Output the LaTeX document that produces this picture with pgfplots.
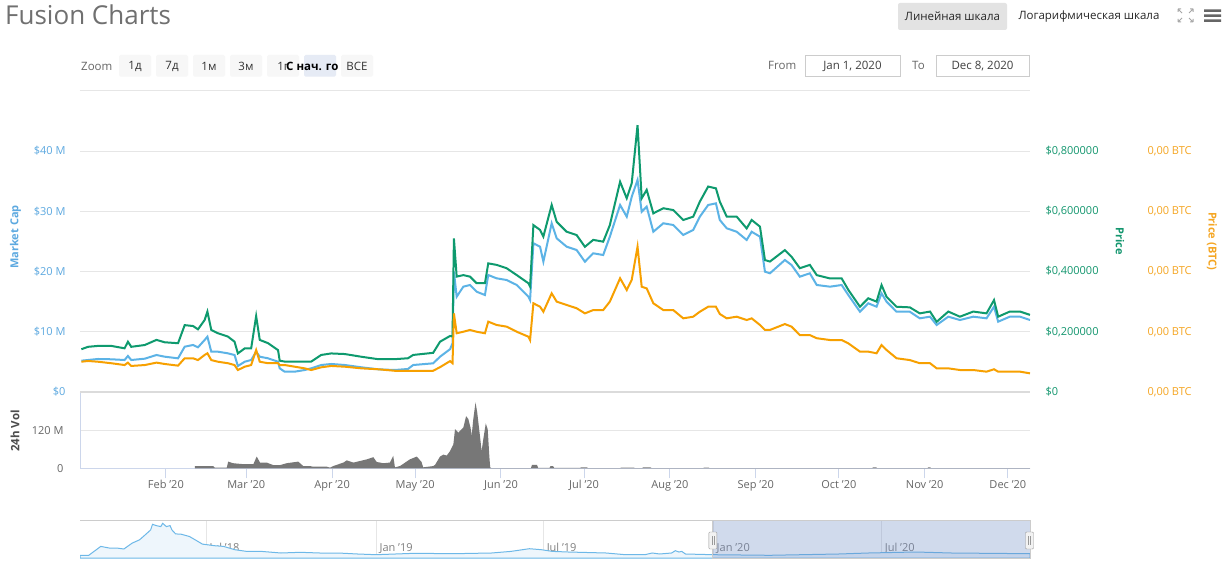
\documentclass[border=0pt]{standalone}
\usepackage{fontspec}
\setmainfont{Open Sans}
\usepackage{pgfplots}
\usepackage{pgfplotstable}
\pgfplotsset{compat=1.18}

\definecolor{mcap}{HTML}{5CB3E6}
\definecolor{price}{HTML}{0E9A6E}
\definecolor{btc}{HTML}{F7A000}
\definecolor{mcaplbl}{HTML}{5DA9E0}
\definecolor{pricelbl}{HTML}{13966E}
\definecolor{btclbl}{HTML}{F5A623}
\definecolor{gridc}{HTML}{E6E6E6}
\definecolor{axisc}{HTML}{CCD6EB}
\definecolor{volc}{HTML}{777777}
\definecolor{txt}{HTML}{666666}
\definecolor{titlec}{HTML}{707070}
\definecolor{btnbg}{HTML}{F7F7F7}
\definecolor{btnsel}{HTML}{E6EBF5}
\definecolor{navline}{HTML}{6DB8E8}
\definecolor{navfill}{HTML}{EEF6FC}
\definecolor{maskc}{RGB}{102,133,194}

% day = days since Jan 1 2020; mcap in M$, price in $, btc in 1e-5 BTC
\pgfplotstableread{
day mcap price btc
0.5 5.20 0.142 2.01
2.9 5.31 0.150 2.06
6.5 5.48 0.153 2.01
11.3 5.43 0.153 1.91
16.1 5.31 0.145 1.79
17.3 5.98 0.167 1.95
18.5 5.31 0.150 1.73
23.4 5.53 0.156 1.79
27.6 6.14 0.173 1.95
30.6 5.86 0.165 1.86
35.4 5.59 0.162 1.75
37.8 7.52 0.222 2.24
40.8 7.80 0.219 2.24
42.6 7.42 0.208 2.12
45.0 8.63 0.239 2.46
46.0 9.18 0.267 2.57
47.4 6.69 0.206 2.12
49.8 6.69 0.195 2.01
53.4 6.42 0.184 1.91
55.8 6.14 0.167 1.79
57.0 4.32 0.128 1.46
59.5 5.03 0.145 1.68
61.8 5.31 0.145 1.79
63.6 6.69 0.252 2.79
64.9 5.86 0.173 2.01
67.9 5.59 0.162 1.91
71.5 5.03 0.139 1.91
72.1 3.93 0.104 1.79
73.9 3.37 0.101 1.79
77.5 3.37 0.101 1.68
81.1 3.65 0.101 1.57
83.5 3.93 0.101 1.46
87.1 4.48 0.123 1.64
90.7 4.65 0.128 1.73
95.6 4.48 0.126 1.68
101.6 4.10 0.117 1.57
107.6 3.77 0.109 1.51
113.6 3.65 0.109 1.41
118.4 3.82 0.112 1.41
120.3 4.48 0.123 1.41
127.5 4.76 0.130 1.41
130.0 5.86 0.167 1.65
133.6 7.10 0.186 2.05
134.5 8.08 0.184 1.91
135.0 20.0 0.510 5.22
136.0 15.82 0.383 3.90
138.4 17.48 0.388 4.00
140.8 17.76 0.383 4.12
143.2 16.65 0.361 4.00
146.2 16.10 0.361 3.90
147.4 19.42 0.427 4.67
150.4 18.87 0.422 4.45
154.0 18.59 0.411 4.34
157.7 17.76 0.388 4.00
161.9 15.82 0.361 3.67
162.5 15.27 0.350 3.45
163.7 24.68 0.554 5.89
166.1 24.12 0.538 5.66
167.3 21.63 0.516 5.33
170.3 28.00 0.621 6.55
172.1 25.51 0.565 6.00
175.7 24.12 0.532 5.78
179.3 23.57 0.521 5.56
182.3 21.63 0.482 5.22
185.3 23.02 0.505 5.44
188.9 22.74 0.499 5.44
191.3 25.78 0.554 6.00
195.0 31.04 0.698 7.55
197.4 29.10 0.643 6.77
199.2 32.41 0.693 7.44
201.3 35.19 0.886 9.65
202.8 29.92 0.643 6.99
204.6 30.76 0.671 6.88
207.0 26.60 0.593 5.89
210.6 28.00 0.610 5.44
214.2 27.72 0.604 5.44
217.8 26.06 0.571 4.89
221.4 26.89 0.582 5.00
223.8 29.10 0.632 5.33
226.8 31.04 0.682 5.66
229.6 31.31 0.676 5.66
231.0 28.55 0.632 5.18
233.5 27.17 0.582 4.89
237.1 26.60 0.582 5.00
240.7 25.23 0.543 4.78
242.5 26.60 0.571 4.89
245.5 25.78 0.549 4.45
247.3 19.97 0.438 4.12
249.1 19.70 0.433 4.12
254.5 21.91 0.471 4.51
256.9 21.08 0.449 4.34
259.9 19.14 0.411 3.78
263.5 19.70 0.422 3.78
266.0 17.76 0.388 3.57
270.8 17.48 0.377 3.45
275.0 17.76 0.377 3.45
277.4 16.10 0.339 3.23
281.6 13.33 0.283 2.68
284.6 14.72 0.311 2.68
287.6 14.16 0.300 2.57
289.4 16.38 0.355 3.12
291.2 14.99 0.316 2.79
294.8 13.33 0.283 2.24
299.6 13.33 0.281 2.12
303.2 12.23 0.261 1.91
306.9 12.50 0.267 1.91
309.3 11.12 0.233 1.57
313.5 12.50 0.267 1.57
317.7 11.95 0.250 1.46
322.5 12.50 0.267 1.46
327.3 12.23 0.261 1.35
330.0 14.16 0.305 1.51
331.5 11.67 0.250 1.35
335.7 12.50 0.267 1.35
339.4 12.50 0.267 1.35
343.0 11.95 0.256 1.24
}\maintab

% 24h volume, M$
\pgfplotstableread{
day vol
41.5 7
48.1 7
48.7 2
53.0 2
53.5 21
55.3 16
59.0 13
62.6 13
63.8 37
65.0 18
67.4 18
69.8 10
72.2 10
74.6 16
78.8 21
80.6 7
83.0 7
84.2 5
89.1 5
90.3 2
91.4 7
95.1 18
96.3 25
98.7 18
101.1 23
103.5 28
105.9 35
107.1 20
109.5 16
111.9 18
113.1 39
113.7 3
115.5 7
119.1 28
121.6 37
123.3 20
123.9 3
127.5 7
128.2 11
130.0 37
131.2 43
132.4 40
133.6 54
134.8 75
135.4 123
136.0 118
136.6 112
137.2 118
138.4 128
139.4 164
140.2 155
141.0 128
141.4 102
142.0 155
142.8 207
143.4 177
144.4 102
145.0 54
145.6 91
146.5 141
147.2 123
147.8 37
148.1 3
148.5 0.6
162.8 0.6
163.2 11
165.0 11
165.4 1
169.5 1
169.9 7
170.8 7
171.2 1
180.5 1
181.0 3
183.0 3
183.4 0.6
195.0 0.6
195.3 2
200.0 2
200.3 0.6
203.0 0.6
203.3 3
206.0 3
206.3 0.6
225.0 0.6
225.3 2
227.0 2
227.3 0.4
286.0 0.4
286.3 3
287.5 3
287.8 0.4
306.0 0.4
306.3 3
307.0 3
307.3 0.4
343.0 0.4
}\voltab

% navigator, market cap over the whole history (M$)
\pgfplotstableread{
day mcap
-685.5 27
-676 27
-663 116
-654 100
-646 100
-638 90
-629 149
-621 182
-615 231
-609 281
-607 337
-603 324
-598 314
-596 347
-592 314
-588 324
-586 281
-582 241
-576 238
-567 215
-559 172
-553 139
-540 123
-530 116
-518 83
-505 66
-489 66
-468 50
-447 57
-426 50
-406 50
-385 40
-365 33
-344 40
-323 47
-281 43
-240 50
-219 66
-199 93
-186 83
-174 66
-157 60
-116 50
-95 33
-74 33
-66 50
-58 40
-45 50
-41 73
-37 60
-34 66
-30 40
0 33
61 27
136 40
168 50
219 60
258 50
343 43
}\navtab

\newcommand\fs[1]{\fontsize{#1}{#1}\selectfont}

\begin{document}
\begin{tikzpicture}
\useasboundingbox (0pt,0pt) rectangle (1231pt,-561pt);
\fill[white] (0pt,0pt) rectangle (1231pt,-561pt);

\pgfplotsset{pane/.style={scale only axis, anchor=south west, width=950pt,
  xmin=0, xmax=343, major tick length=0pt,
  tick label style={font=\fs{11}},
  grid style={gridc, line width=1pt}}}

% main pane: market cap
\begin{axis}[pane, at={(80pt,-392pt)}, height=301.25pt, ymin=0, ymax=50,
  axis y line*=left, axis x line*=bottom, axis line style={draw=none},
  xtick=\empty, ytick={0,10,20,30,40,50},
  yticklabels={\$0,\$10 M,\$20 M,\$30 M,\$40 M,{}},
  ymajorgrids, yticklabel style={text=mcaplbl, anchor=east, xshift=-11pt}]
\addplot[mcap, line width=2pt] table[x=day, y=mcap] {\maintab};
\end{axis}

% price in USD
\begin{axis}[pane, at={(80pt,-392pt)}, height=301.25pt, ymin=0, ymax=1,
  axis y line*=right, axis x line*=bottom, axis line style={draw=none},
  xtick=\empty, ytick={0,0.2,0.4,0.6,0.8},
  yticklabels={\$0,{\$0,200000},{\$0,400000},{\$0,600000},{\$0,800000}},
  yticklabel style={text=pricelbl, anchor=west, xshift=12pt}]
\addplot[price, line width=2pt] table[x=day, y=price] {\maintab};
\end{axis}

% price in BTC
\begin{axis}[pane, at={(80pt,-392pt)}, height=301.25pt, ymin=0, ymax=20,
  axis y line*=right, axis x line*=bottom, axis line style={draw=none},
  xtick=\empty, ytick={0,4,8,12,16},
  yticklabels={{0,00 BTC},{0,00 BTC},{0,00 BTC},{0,00 BTC},{0,00 BTC}},
  yticklabel style={text=btclbl, anchor=west, xshift=114pt}]
\addplot[btc, line width=2pt] table[x=day, y=btc] {\maintab};
\end{axis}

% volume pane
\begin{axis}[pane, at={(80pt,-468.3pt)}, height=76.3pt, ymin=0, ymax=240,
  axis x line*=bottom, axis y line*=left, axis line style={axisc, line width=1pt},
  major tick length=10pt, tick align=outside,
  xtick={31,60,91,121,152,182,213,244,274,305,335},
  xticklabels={Feb '20,Mar '20,Apr '20,May '20,Jun '20,Jul '20,Aug '20,Sep '20,Oct '20,Nov '20,Dec '20},
  xtick style={axisc, line width=1pt}, ytick style={draw=none},
  xticklabel style={text=txt, yshift=1.5pt},
  ytick={0,120}, yticklabels={0,120 M}, ymajorgrids,
  yticklabel style={text=txt, anchor=east, xshift=-3pt}]
\addplot[fill=volc, draw=none] table[x=day, y=vol] {\voltab} \closedcycle;
\end{axis}

% navigator
\begin{axis}[scale only axis, anchor=south west, at={(80pt,-558pt)},
  width=950pt, height=38pt, xmin=-685.5, xmax=343, ymin=0, ymax=380,
  axis line style={draw=none}, major tick length=0pt, ytick=\empty,
  xtick={-549,-365,-184,0,182},
  xticklabels={Jul '18,Jan '19,Jul '19,Jan '20,Jul '20},
  xmajorgrids, grid style={gridc, line width=1pt},
  xticklabel style={font=\fs{11}, text=gray, anchor=south west, xshift=0pt, yshift=1pt}]
\addplot[navline, line width=1pt, fill=navfill] table[x=day, y=mcap] {\navtab} \closedcycle;
\end{axis}

\begin{scope}[x=1pt, y=-1pt]
% thick separator at $0
\draw[color=black!14, line width=2.5pt] (80,392) -- (1030,392);
% axis titles
\node[rotate=90, font=\bfseries\fs{11}, text=mcaplbl] at (15.5,237) {Market Cap};
\node[rotate=-90, font=\bfseries\fs{11}, text=pricelbl] at (1120,241) {Price};
\node[rotate=-90, font=\bfseries\fs{11}, text=btclbl] at (1212,241) {Price (BTC)};
\node[rotate=90, font=\bfseries\fs{11.5}, text=black!70] at (15,431) {24h Vol};

% navigator mask and handles
\fill[maskc, fill opacity=0.3] (712.8,520) rectangle (1030,558);
\draw[black!20, line width=1pt] (80,520) -- (1030,520);
\draw[black!20, line width=1pt] (712.8,520) rectangle (1030,558);
\foreach \hx in {712.8,1029.5}{
  \draw[fill=black!5, draw=black!40, rounded corners=1pt] (\hx-4,532) rectangle (\hx+4,549);
  \draw[black!40] (\hx-1,536) -- (\hx-1,545) (\hx+1,536) -- (\hx+1,545);
}

% title
\node[anchor=west, text=titlec, font=\fs{26}, inner sep=0pt] at (5,15) {Fusion Charts};

% range selector
\node[anchor=west, text=txt, font=\fs{11.5}, inner sep=0pt] at (81,66) {Zoom};
\foreach \bx/\bl in {119/1д,156/7д,193/1м,230/3м,267/1г,341/ВСЕ}{
  \fill[btnbg, rounded corners=1.5pt] (\bx,55) rectangle (\bx+32,76.7);
  \node[text=black!80, font=\fs{11.5}, inner sep=0pt] at (\bx+16,66) {\bl};
}
\fill[btnsel, rounded corners=1.5pt] (304,55) rectangle (336,76.7);
\node[anchor=west, font=\bfseries\fs{11.5}, inner sep=0pt] at (286,66) {С нач. го};

\node[anchor=west, text=txt, font=\fs{11.5}, inner sep=0pt] at (768,65.5) {From};
\draw[black!20] (805,55) rectangle (900,76.7);
\node[text=black!75, font=\fs{11.5}, inner sep=0pt] at (852.5,66) {Jan 1, 2020};
\node[anchor=west, text=txt, font=\fs{11.5}, inner sep=0pt] at (912,65.5) {To};
\draw[black!20] (935.7,55) rectangle (1029.3,76.7);
\node[text=black!75, font=\fs{11.5}, inner sep=0pt] at (982.5,66) {Dec 8, 2020};

% scale switch
\fill[black!11, rounded corners=2pt] (898,3) rectangle (1007,30);
\node[text=black!85, font=\fs{11.5}, inner sep=0pt] at (952.5,16.5) {Линейная шкала};
\node[text=black!85, font=\fs{11.5}, inner sep=0pt] at (1089,16.5) {Логарифмическая шкала};

% fullscreen icon
\begin{scope}[black!35, line width=1pt]
\draw (1178,9) -- (1182,13) (1178,9) -- (1181,9) (1178,9) -- (1178,12);
\draw (1193,9) -- (1189,13) (1193,9) -- (1190,9) (1193,9) -- (1193,12);
\draw (1178,22) -- (1182,18) (1178,22) -- (1181,22) (1178,22) -- (1178,19);
\draw (1193,22) -- (1189,18) (1193,22) -- (1190,22) (1193,22) -- (1193,19);
\end{scope}
% menu icon
\fill[black!60] (1204,9.5) rectangle (1221,12) (1204,14.5) rectangle (1221,17) (1204,19.5) rectangle (1221,22);
\end{scope}
\end{tikzpicture}
\end{document}
